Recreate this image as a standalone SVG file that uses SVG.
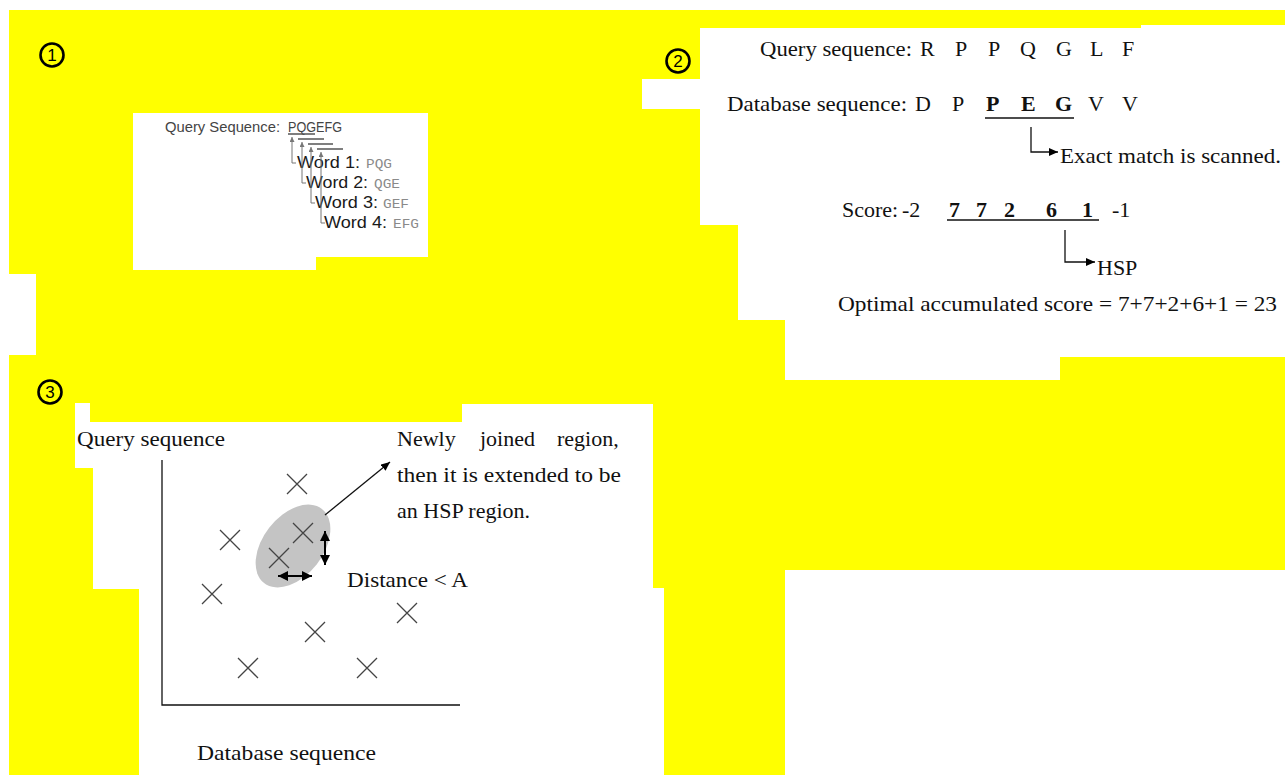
<svg xmlns="http://www.w3.org/2000/svg" width="1285" height="775" viewBox="0 0 1285 775">
<style>
.y{fill:#ffff00}
.w{fill:#ffffff}
.sans{font-family:"Liberation Sans",Arial,sans-serif}
.serif{font-family:"Liberation Serif","Times New Roman",serif;fill:#111}
.mono{font-family:"Liberation Mono","Courier New",monospace;fill:#8a8a8a}
.num{font-family:"Liberation Sans",Arial,sans-serif;font-size:17px;fill:#000;text-anchor:middle}
.ring{fill:none;stroke:#000;stroke-width:2.6}
.ln{stroke:#111;stroke-width:1.3;fill:none}
.gl{stroke:#555;stroke-width:1.6;fill:none}
.gv{stroke:#777;stroke-width:1;fill:none}
.x{stroke:#444;stroke-width:1.3;fill:none}
.da{stroke:#000;stroke-width:2;fill:none}
</style>
<defs>
<marker id="ah" markerUnits="userSpaceOnUse" markerWidth="9" markerHeight="8" refX="9" refY="4" orient="auto"><path d="M0,0 L9,4 L0,8 z" fill="#000"/></marker>
<marker id="ab" markerUnits="userSpaceOnUse" markerWidth="10" markerHeight="10" refX="10" refY="5" orient="auto-start-reverse"><path d="M0,0 L10,5 L0,10 z" fill="#000"/></marker>
<marker id="as" markerUnits="userSpaceOnUse" markerWidth="5" markerHeight="5" refX="5" refY="2.5" orient="auto"><path d="M0,0 L5,2.5 L0,5 z" fill="#777"/></marker>
</defs>

<g id="background">
<rect class="y" x="9" y="10" width="1276" height="765"/>
<rect class="w" x="9" y="274" width="27" height="81"/>
<rect class="w" x="133" y="113" width="183" height="157"/>
<rect class="w" x="316" y="113" width="112" height="144"/>
<rect class="w" x="700" y="28" width="585" height="197"/>
<rect class="w" x="1141" y="25" width="144" height="4"/>
<rect class="w" x="738" y="224" width="547" height="96"/>
<rect class="w" x="785" y="319" width="500" height="38"/>
<rect class="w" x="785" y="356" width="275" height="24"/>
<rect class="w" x="642" y="79" width="59" height="30"/>
<rect class="w" x="75" y="403" width="15" height="20"/>
<rect class="w" x="462" y="404" width="191" height="19"/>
<rect class="w" x="75" y="422" width="578" height="46"/>
<rect class="w" x="93" y="467" width="560" height="122"/>
<rect class="w" x="139" y="588" width="525" height="187"/>
<rect class="w" x="785" y="570" width="500" height="205"/>
</g>

<g id="block1">
<circle class="ring" cx="52" cy="55" r="11.5"/>
<text class="num" x="52" y="61">1</text>
<text class="sans" x="165" y="132" font-size="14" fill="#444" textLength="115" lengthAdjust="spacingAndGlyphs">Query Sequence:</text>
<text class="sans" x="288" y="132" font-size="14" fill="#444" textLength="54" lengthAdjust="spacingAndGlyphs">PQGEFG</text>
<g id="word1"><text class="sans" x="297" y="168" font-size="16" fill="#1a1a1a" textLength="63" lengthAdjust="spacingAndGlyphs">Word 1:</text><text class="mono" x="366" y="168" font-size="13" textLength="26" lengthAdjust="spacingAndGlyphs">PQG</text></g>
<g id="word2"><text class="sans" x="306" y="188" font-size="16" fill="#1a1a1a" textLength="62" lengthAdjust="spacingAndGlyphs">Word 2:</text><text class="mono" x="374" y="188" font-size="13" textLength="26" lengthAdjust="spacingAndGlyphs">QGE</text></g>
<g id="word3"><text class="sans" x="315" y="208" font-size="16" fill="#1a1a1a" textLength="63" lengthAdjust="spacingAndGlyphs">Word 3:</text><text class="mono" x="383" y="208" font-size="13" textLength="26" lengthAdjust="spacingAndGlyphs">GEF</text></g>
<g id="word4"><text class="sans" x="324" y="228" font-size="16" fill="#1a1a1a" textLength="63" lengthAdjust="spacingAndGlyphs">Word 4:</text><text class="mono" x="393" y="228" font-size="13" textLength="26" lengthAdjust="spacingAndGlyphs">EFG</text></g>
</g>

<g id="block2">
<circle class="ring" cx="678" cy="61" r="11.5"/>
<text class="num" x="678" y="67">2</text>
<text class="serif" y="56" font-size="22"><tspan x="760" textLength="152" lengthAdjust="spacingAndGlyphs">Query sequence:</tspan><tspan x="920">R</tspan><tspan x="955">P</tspan><tspan x="988">P</tspan><tspan x="1020">Q</tspan><tspan x="1056">G</tspan><tspan x="1090">L</tspan><tspan x="1122">F</tspan></text>
<text class="serif" y="111" font-size="22"><tspan x="727" textLength="180" lengthAdjust="spacingAndGlyphs">Database sequence:</tspan><tspan x="915">D</tspan><tspan x="952">P</tspan><tspan x="986" font-weight="bold">P</tspan><tspan x="1021" font-weight="bold">E</tspan><tspan x="1055" font-weight="bold">G</tspan><tspan x="1088">V</tspan><tspan x="1122">V</tspan></text>
<text class="serif" x="1060" y="163" font-size="22" textLength="221" lengthAdjust="spacingAndGlyphs">Exact match is scanned.</text>
<text class="serif" y="217" font-size="22"><tspan x="842">Score:</tspan><tspan x="902">-2</tspan><tspan x="949" font-weight="bold">7</tspan><tspan x="976" font-weight="bold">7</tspan><tspan x="1004" font-weight="bold">2</tspan><tspan x="1046" font-weight="bold">6</tspan><tspan x="1082" font-weight="bold">1</tspan><tspan x="1112">-1</tspan></text>
<text class="serif" x="1097" y="275" font-size="22">HSP</text>
<text class="serif" x="838" y="311" font-size="22" textLength="439" lengthAdjust="spacingAndGlyphs">Optimal accumulated score = 7+7+2+6+1 = 23</text>
</g>

<g id="block3">
<circle class="ring" cx="50" cy="392" r="11.5"/>
<text class="num" x="50" y="398">3</text>
<text class="serif" x="77" y="446" font-size="22" textLength="148" lengthAdjust="spacingAndGlyphs">Query sequence</text>
<text class="serif" y="446" font-size="22"><tspan x="397">Newly</tspan><tspan x="480">joined</tspan><tspan x="557">region,</tspan></text>
<text class="serif" x="397" y="482" font-size="22" textLength="224" lengthAdjust="spacingAndGlyphs">then it is extended to be</text>
<text class="serif" x="397" y="518" font-size="22">an HSP region.</text>
<text class="serif" x="347" y="587" font-size="22" textLength="121" lengthAdjust="spacingAndGlyphs">Distance &lt; A</text>
<text class="serif" x="197" y="760" font-size="22" textLength="179" lengthAdjust="spacingAndGlyphs">Database sequence</text>
<ellipse cx="293" cy="546" rx="47" ry="30" transform="rotate(-52 293 546)" fill="#c4c4c4"/>
<path class="ln" d="M162,460 V705 H460" stroke-width="1.6"/>
<g id="marks">
<path class="x" d="M287,474 l20,20 M307,474 l-20,20"/>
<path class="x" d="M220,530 l20,20 M240,530 l-20,20"/>
<path class="x" d="M293,523 l20,20 M313,523 l-20,20"/>
<path class="x" d="M269,548 l20,20 M289,548 l-20,20"/>
<path class="x" d="M202,584 l20,20 M222,584 l-20,20"/>
<path class="x" d="M397,603 l20,20 M417,603 l-20,20"/>
<path class="x" d="M305,622 l20,20 M325,622 l-20,20"/>
<path class="x" d="M238,658 l20,20 M258,658 l-20,20"/>
<path class="x" d="M357,658 l20,20 M377,658 l-20,20"/>
</g>
</g>

<g id="connectors">
<path class="gl" d="M288,134 H315 M298,139 H324 M308,144 H333 M317,149 H343"/>
<path class="gv" d="M292,163 V137" marker-end="url(#as)"/><path class="gv" d="M292,163 H296"/>
<path class="gv" d="M302,183 V142" marker-end="url(#as)"/><path class="gv" d="M302,183 H306"/>
<path class="gv" d="M311,203 V147" marker-end="url(#as)"/><path class="gv" d="M311,203 H315"/>
<path class="gv" d="M321,223 V152" marker-end="url(#as)"/><path class="gv" d="M321,223 H325"/>
<path class="ln" d="M985,118 H1074"/>
<path class="ln" d="M1031,127 V152 H1058" marker-end="url(#ah)"/>
<path class="ln" d="M947,220 H1099"/>
<path class="ln" d="M1065,230 V262 H1095" marker-end="url(#ah)"/>
<path class="ln" d="M325,515 L390,462" marker-end="url(#ah)"/>
<path class="da" d="M325,531 V565" marker-start="url(#ab)" marker-end="url(#ab)"/>
<path class="da" d="M278,576 H312" marker-start="url(#ab)" marker-end="url(#ab)"/>
</g>
</svg>
